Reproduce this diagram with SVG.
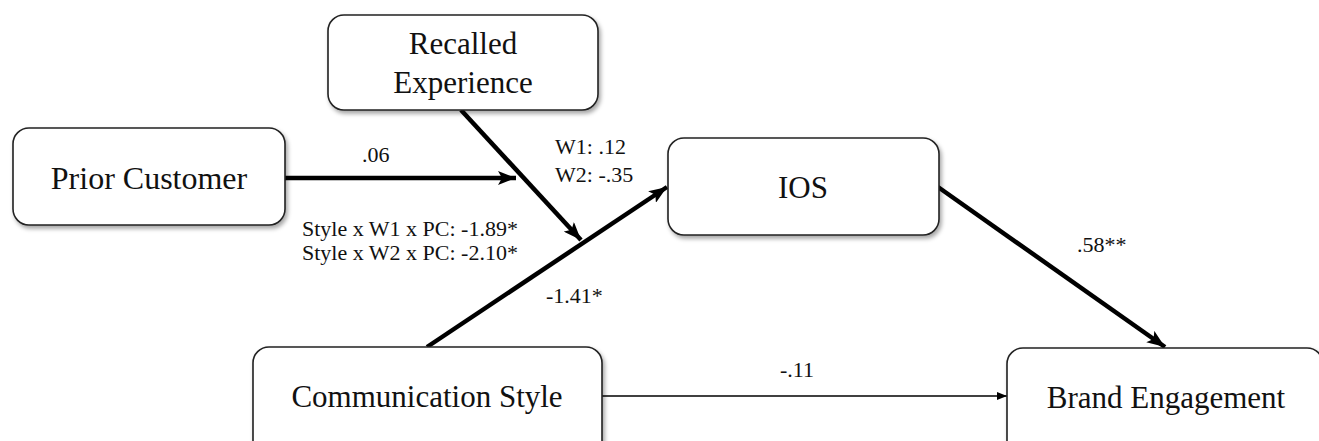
<svg xmlns="http://www.w3.org/2000/svg" width="1319" height="441" viewBox="0 0 1319 441">
<defs>
<filter id="sh" x="-10%" y="-10%" width="130%" height="140%">
<feDropShadow dx="2" dy="3" stdDeviation="2" flood-color="#000" flood-opacity="0.35"/>
</filter>
<marker id="ah" viewBox="0 0 18 14" refX="18" refY="7" markerWidth="18" markerHeight="14" markerUnits="userSpaceOnUse" orient="auto">
<path d="M0,0 L18,7 L0,14 L4,7 Z" fill="#000"/>
</marker>
<marker id="as" viewBox="0 0 10 8" refX="10" refY="4" markerWidth="10" markerHeight="8" markerUnits="userSpaceOnUse" orient="auto">
<path d="M0,0 L10,4 L0,8 Z" fill="#000"/>
</marker>
</defs>
<style>
.box{fill:#fff;stroke:#222;stroke-width:1.6;filter:url(#sh)}
.nt{font-family:'Liberation Serif','Times New Roman','DejaVu Serif',serif;font-size:31px;fill:#111;text-anchor:middle}
.lb{font-family:'Liberation Serif','Times New Roman','DejaVu Serif',serif;font-size:22px;fill:#111}
.thick{stroke:#000;stroke-width:4.5;fill:none;marker-end:url(#ah)}
.thin{stroke:#000;stroke-width:1.5;fill:none;marker-end:url(#as)}
</style>
<rect width="1319" height="441" fill="#fff"/>
<g id="connectors">
<line class="thick" x1="285" y1="178" x2="516" y2="178"/>
<line class="thick" x1="461" y1="110" x2="581" y2="240"/>
<line class="thick" x1="427" y1="347" x2="667" y2="187"/>
<line class="thick" x1="938" y1="187" x2="1165" y2="347"/>
<line class="thin" x1="602" y1="396" x2="1007" y2="396"/>
</g>
<g id="node-recalled">
<rect class="box" x="328" y="15" width="270" height="95" rx="16"/>
<text class="nt" x="463" y="54">Recalled</text>
<text class="nt" x="463" y="93">Experience</text>
</g>
<g id="node-prior">
<rect class="box" x="13" y="128" width="272" height="97" rx="16"/>
<text class="nt" x="149" y="189" style="font-size:32px">Prior Customer</text>
</g>
<g id="node-ios">
<rect class="box" x="668" y="138" width="271" height="97" rx="16"/>
<text class="nt" x="803" y="198">IOS</text>
</g>
<g id="node-comm">
<rect class="box" x="253" y="347" width="349" height="110" rx="16"/>
<text class="nt" x="427" y="407">Communication Style</text>
</g>
<g id="node-brand">
<rect class="box" x="1007" y="348" width="316" height="110" rx="16"/>
<text class="nt" x="1166" y="408">Brand Engagement</text>
</g>
<g id="labels">
<text class="lb" x="362" y="162">.06</text>
<text class="lb" x="555" y="154">W1: .12</text>
<text class="lb" x="555" y="182">W2: -.35</text>
<text class="lb" x="302" y="236">Style x W1 x PC: -1.89*</text>
<text class="lb" x="302" y="260">Style x W2 x PC: -2.10*</text>
<text class="lb" x="546" y="303">-1.41*</text>
<text class="lb" x="1077" y="252">.58**</text>
<text class="lb" x="780" y="377">-.11</text>
</g>
</svg>
